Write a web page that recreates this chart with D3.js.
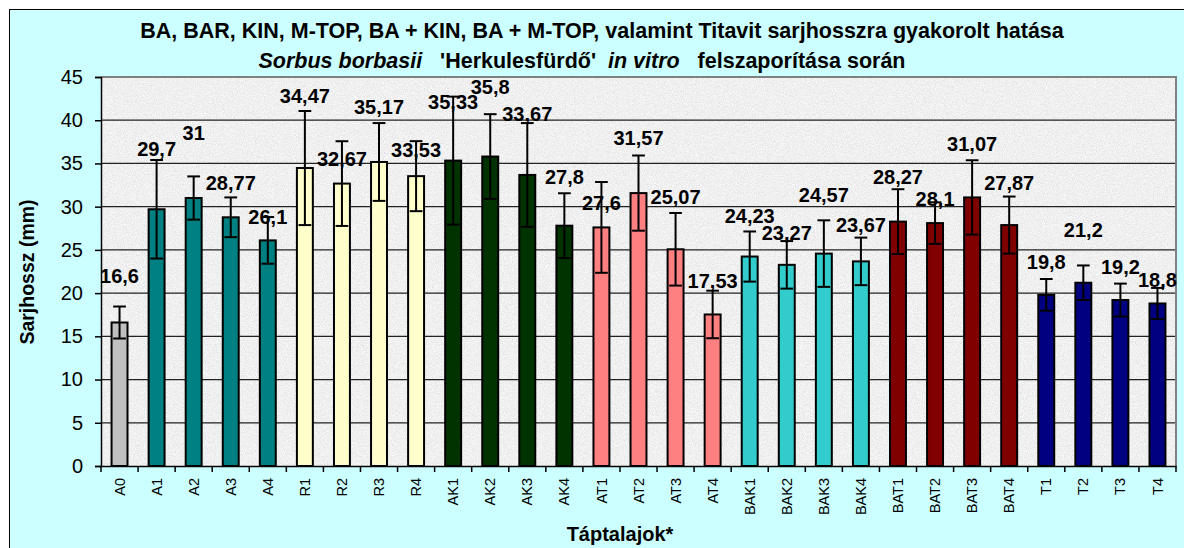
<!DOCTYPE html>
<html>
<head>
<meta charset="utf-8">
<script src="https://cdn.jsdelivr.net/npm/d3@7"></script>
<style>
  body { margin: 0; background: #fff; }
  svg { display: block; }
</style>
</head>
<body>
<div id="chart"></div>
<script>
const categories = ['A0','A1','A2','A3','A4','R1','R2','R3','R4','AK1','AK2','AK3','AK4',
                    'AT1','AT2','AT3','AT4','BAK1','BAK2','BAK3','BAK4','BAT1','BAT2','BAT3','BAT4',
                    'T1','T2','T3','T4'];
const values = [16.6, 29.7, 31, 28.77, 26.1, 34.47, 32.67, 35.17, 33.53, 35.33, 35.8, 33.67, 27.8,
                27.6, 31.57, 25.07, 17.53, 24.23, 23.27, 24.57, 23.67, 28.27, 28.1, 31.07, 27.87,
                19.8, 21.2, 19.2, 18.8];
// +/- error
const errors = [1.85, 5.7, 2.5, 2.3, 2.7, 6.6, 4.9, 4.5, 4.05, 7.4, 4.9, 6.0, 3.75,
                5.25, 4.35, 4.2, 2.75, 2.9, 2.75, 3.85, 2.75, 3.75, 2.4, 4.3, 3.3,
                1.83, 2.0, 1.9, 1.8];
// height (mm) at which each value label sits in the picture
const labelLevels = [22.0, 36.7, 38.6, 32.8, 28.8, 42.8, 35.5, 41.6, 36.6, 42.1, 43.9, 40.8, 33.4,
                     30.5, 38.0, 31.1, 21.4, 28.9, 27.0, 31.4, 27.9, 33.4, 30.9, 37.3, 32.8,
                     23.6, 27.3, 23.1, 21.5];
const colors = ['#C0C0C0',
                '#008080','#008080','#008080','#008080',
                '#FFFFCC','#FFFFCC','#FFFFCC','#FFFFCC',
                '#003300','#003300','#003300','#003300',
                '#FF8080','#FF8080','#FF8080','#FF8080',
                '#33CCCC','#33CCCC','#33CCCC','#33CCCC',
                '#800000','#800000','#800000','#800000',
                '#000080','#000080','#000080','#000080'];
const yTicks = [0, 5, 10, 15, 20, 25, 30, 35, 40, 45];

const width = 1184, height = 548;
const m = {left: 101, top: 77, right: 1176, bottom: 466};
const font = 'Arial, "Liberation Sans", sans-serif';

const svg = d3.select('#chart').append('svg')
              .attr('width', width)
              .attr('height', height);

// plot area grain
const defs = svg.append('defs');
const grain = defs.append('filter')
                  .attr('id', 'grain')
                  .attr('x', 0).attr('y', 0)
                  .attr('width', '100%').attr('height', '100%');
grain.append('feTurbulence')
     .attr('type', 'fractalNoise')
     .attr('baseFrequency', 1.1)
     .attr('numOctaves', 2)
     .attr('seed', 4);
grain.append('feColorMatrix')
     .attr('type', 'saturate')
     .attr('values', 0);
const ct = grain.append('feComponentTransfer');
['feFuncR','feFuncG','feFuncB'].forEach(f => {
  ct.append(f).attr('type', 'linear').attr('slope', 0.5).attr('intercept', 0.62);
});
ct.append('feFuncA').attr('type', 'linear').attr('slope', 0).attr('intercept', 1);

// chart frame
svg.append('rect')
   .attr('x', 9.5).attr('y', 9.5)
   .attr('width', width).attr('height', height)
   .attr('fill', '#CCFFFF')
   .attr('stroke', '#000')
   .attr('stroke-width', 1);

const x = d3.scaleBand()
            .domain(categories)
            .range([m.left, m.right])
            .paddingInner(0.57)
            .paddingOuter(0.285);

const y = d3.scaleLinear()
            .domain([0, 45])
            .range([m.bottom, m.top]);

// plot background
svg.append('rect')
   .attr('x', m.left).attr('y', m.top)
   .attr('width', m.right - m.left).attr('height', m.bottom - m.top)
   .attr('filter', 'url(#grain)');

// gridlines
svg.append('g')
   .selectAll('line')
   .data(yTicks.filter(t => t > 0 && t < 45))
   .join('line')
   .attr('x1', m.left).attr('x2', m.right)
   .attr('y1', d => y(d)).attr('y2', d => y(d))
   .attr('stroke', '#222')
   .attr('stroke-width', 1.2);

// plot border (top / right)
svg.append('path')
   .attr('d', `M${m.left},${m.top}H${m.right}V${m.bottom}`)
   .attr('fill', 'none')
   .attr('stroke', '#808080')
   .attr('stroke-width', 2);

// y axis
const yAxis = d3.axisLeft(y)
                .tickValues(yTicks)
                .tickSize(6)
                .tickPadding(12)
                .tickFormat(d3.format('d'));
const yg = svg.append('g')
              .attr('transform', `translate(${m.left},0)`)
              .call(yAxis);
yg.select('.domain').attr('stroke', '#000').attr('stroke-width', 1.5);
yg.selectAll('.tick line').attr('stroke', '#000').attr('stroke-width', 1.5);
yg.selectAll('.tick text')
  .style('font-family', font)
  .style('font-size', '20px')
  .attr('fill', '#000');

// x axis: ticks at category boundaries
const xAxis = d3.axisBottom(x).tickSize(0).tickPadding(12);
const xg = svg.append('g')
              .attr('transform', `translate(0,${m.bottom})`)
              .call(xAxis);
xg.select('.domain').attr('stroke', '#000').attr('stroke-width', 1.5);
xg.selectAll('.tick text')
  .attr('transform', 'rotate(-90)')
  .attr('x', -12)
  .attr('y', 0)
  .attr('dy', '0.35em')
  .style('text-anchor', 'end')
  .style('font-family', font)
  .style('font-size', '14.5px')
  .attr('fill', '#000');
xg.append('g')
  .selectAll('line')
  .data(d3.range(categories.length + 1))
  .join('line')
  .attr('x1', i => m.left + i * x.step())
  .attr('x2', i => m.left + i * x.step())
  .attr('y1', 0).attr('y2', 6)
  .attr('stroke', '#000')
  .attr('stroke-width', 1.5);

// bars
svg.append('g')
   .selectAll('rect')
   .data(categories)
   .join('rect')
   .attr('x', d => x(d))
   .attr('y', (d, i) => y(values[i]))
   .attr('width', x.bandwidth())
   .attr('height', (d, i) => y(0) - y(values[i]))
   .attr('fill', (d, i) => colors[i])
   .attr('stroke', '#000')
   .attr('stroke-width', 2);

// error bars
const cap = x.bandwidth() * 0.8;
const eb = svg.append('g')
              .selectAll('g')
              .data(categories)
              .join('g')
              .attr('transform', d => `translate(${x(d) + x.bandwidth() / 2},0)`)
              .attr('stroke', '#000')
              .attr('stroke-width', 2);
eb.append('line')
  .attr('y1', (d, i) => y(values[i] + errors[i]))
  .attr('y2', (d, i) => y(values[i] - errors[i]));
eb.append('line')
  .attr('x1', -cap / 2).attr('x2', cap / 2)
  .attr('y1', (d, i) => y(values[i] + errors[i]))
  .attr('y2', (d, i) => y(values[i] + errors[i]));
eb.append('line')
  .attr('x1', -cap / 2).attr('x2', cap / 2)
  .attr('y1', (d, i) => y(values[i] - errors[i]))
  .attr('y2', (d, i) => y(values[i] - errors[i]));

// value labels
const fmt = v => String(v).replace('.', ',');
svg.append('g')
   .selectAll('text')
   .data(categories)
   .join('text')
   .attr('x', d => x(d) + x.bandwidth() / 2)
   .attr('y', (d, i) => y(labelLevels[i]))
   .attr('dy', '0.36em')
   .style('text-anchor', 'middle')
   .style('font-family', font)
   .style('font-size', '20px')
   .style('font-weight', 'bold')
   .text((d, i) => fmt(values[i]));

// titles
svg.append('text')
   .attr('x', 602)
   .attr('y', 38)
   .style('text-anchor', 'middle')
   .style('font-family', font)
   .style('font-size', '21.5px')
   .style('font-weight', 'bold')
   .text('BA, BAR, KIN, M-TOP, BA + KIN, BA + M-TOP, valamint Titavit sarjhosszra gyakorolt hatása');

const sub = svg.append('text')
               .attr('x', 582)
               .attr('y', 68)
               .style('text-anchor', 'middle')
               .style('font-family', font)
               .style('font-size', '21.5px')
               .style('font-weight', 'bold')
               .attr('xml:space', 'preserve');
sub.append('tspan').style('font-style', 'italic').text('Sorbus borbasii');
sub.append('tspan').text("   'Herkulesfürdő'  ");
sub.append('tspan').style('font-style', 'italic').text('in vitro');
sub.append('tspan').text('   felszaporítása során');

svg.append('text')
   .attr('transform', 'translate(34,272) rotate(-90)')
   .style('text-anchor', 'middle')
   .style('font-family', font)
   .style('font-size', '19.5px')
   .style('font-weight', 'bold')
   .text('Sarjhossz (mm)');

svg.append('text')
   .attr('x', 620)
   .attr('y', 541)
   .style('text-anchor', 'middle')
   .style('font-family', font)
   .style('font-size', '20px')
   .style('font-weight', 'bold')
   .text('Táptalajok*');
</script>
</body>
</html>
